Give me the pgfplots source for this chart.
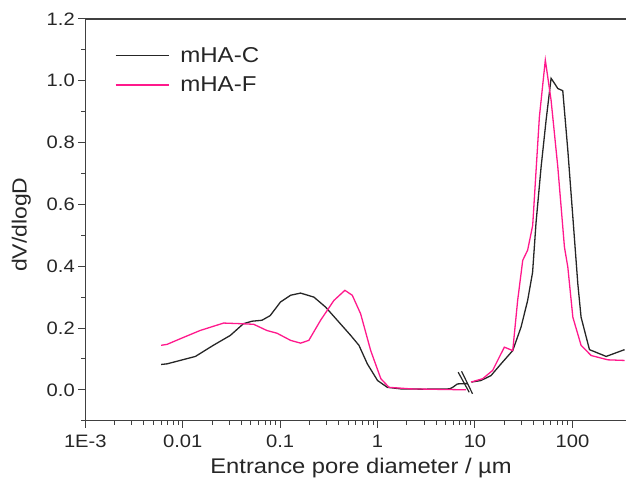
\documentclass[border=0pt]{standalone}
\usepackage{fontspec}
\setmainfont{Liberation Sans}[FakeStretch=1.12]
\usepackage{pgfplots}
\pgfplotsset{compat=1.18}
\definecolor{mypink}{RGB}{255,25,140}
\begin{document}
\begin{tikzpicture}
\begin{axis}[
  name=ax,
  scale only axis,
  width=540.7pt, height=401.7pt,
  xmode=log,
  xmin=0.001, xmax=354.8,
  ymin=-0.1, ymax=1.2,
  axis x line=box, axis y line=left,
  axis line style={-, line width=1.1pt, black!75},
  xtick pos=bottom, ytick pos=left,
  tick align=outside,
  major tick length=7pt, minor tick length=4pt,
  every tick/.style={black!75, line width=1pt},
  xtick={0.001,0.01,0.1,1,10,100},
  xticklabels={1E-3,0.01,0.1,1,10,100},
  ytick={0,0.2,0.4,0.6,0.8,1.0,1.2},
  minor ytick={-0.1,0.1,0.3,0.5,0.7,0.9,1.1},
  yticklabel style={/pgf/number format/.cd, fixed, fixed zerofill, precision=1},
  /pgf/number format/assume math mode=true,
  tick label style={font=\fontsize{18}{20}\selectfont, black!85},
  xticklabel style={yshift=-4pt},
  xlabel={Entrance pore diameter / \textmu m},
  ylabel={dV/dlogD},
  label style={font=\fontsize{20.5}{24}\selectfont, black!85},
  xlabel style={at={(axis description cs:0.51,0)}, anchor=north, yshift=-34pt, font=\fontsize{21.2}{24}\selectfont},
  ylabel style={at={(axis description cs:0,0.488)}, anchor=south, yshift=51pt},
  legend style={draw=none, fill=none, at={(axis description cs:0.049,0.94)}, anchor=north west,
    font=\fontsize{21.5}{24}\selectfont, row sep=9pt, text=black!85},
  legend cell align=left,
  legend image code/.code={\draw[#1] (0pt,0pt) -- (53pt,0pt); \path (62pt,0pt);},
  clip=false,
]
\addplot[black!85, line width=1.3pt] coordinates {
(0.0060,0.082) (0.0069,0.084) (0.0094,0.095) (0.0135,0.108) (0.0206,0.144)
(0.0308,0.176) (0.042,0.214) (0.0515,0.222) (0.065,0.225) (0.079,0.240)
(0.1007,0.284) (0.128,0.306) (0.162,0.313) (0.222,0.300) (0.292,0.268)
(0.386,0.225) (0.53,0.176) (0.644,0.144) (0.785,0.084) (1.0,0.030)
(1.26,0.008) (1.73,0.003) (3.0,0.002) (5.5,0.003) (5.9,0.008)
(6.6,0.019) (7.6,0.020) (8.4,0.020)
};
\addlegendentry{mHA-C}
\addplot[mypink, line width=1.3pt] coordinates {
(0.0060,0.144) (0.0069,0.147) (0.0094,0.165) (0.0151,0.192) (0.0263,0.216)
(0.039,0.214) (0.0535,0.212) (0.073,0.192) (0.093,0.183) (0.128,0.160)
(0.162,0.151) (0.197,0.160) (0.26,0.225) (0.356,0.289) (0.462,0.322)
(0.55,0.306) (0.67,0.246) (0.85,0.127) (1.08,0.036) (1.31,0.008)
(2.19,0.003) (5.0,0.001) (8.05,0.000)
};
\addlegendentry{mHA-F}
\addplot[black!85, line width=1.3pt, forget plot] coordinates {
(9.2,0.025) (11.5,0.030) (14.6,0.046) (18.5,0.084) (24.4,0.127)
(29.7,0.203) (34.7,0.289) (39.0,0.380) (42.3,0.540) (47.7,0.721)
(53.7,0.873) (60.4,1.008) (65.4,0.992) (70.8,0.975) (79.6,0.968)
(89.7,0.775) (101,0.559) (113.6,0.343) (122.7,0.235) (149.6,0.130)
(222,0.108) (343,0.130)
};
\addplot[mypink, line width=1.3pt, forget plot] coordinates {
(9.1,0.025) (12.0,0.036) (15.2,0.063) (20.0,0.138) (24.4,0.127)
(27.4,0.289) (30.9,0.419) (34.7,0.452) (39.1,0.532) (45.8,0.883)
(52.7,1.067) (60.4,0.937) (70.8,0.721) (82.8,0.462) (89.7,0.397)
(101,0.235) (122.7,0.144) (155.6,0.111) (231,0.097) (343,0.095)
};
\draw[black!85, line width=1.2pt] (axis cs:6.72,0.057) -- (axis cs:8.72,-0.008);
\draw[black!85, line width=1.2pt] (axis cs:7.28,0.060) -- (axis cs:9.44,-0.013);
\end{axis}
\pgfresetboundingbox
\path ([shift={(-85.3pt,-67.3pt)}]ax.south west) rectangle ++(626pt,488pt);
\end{tikzpicture}
\end{document}
